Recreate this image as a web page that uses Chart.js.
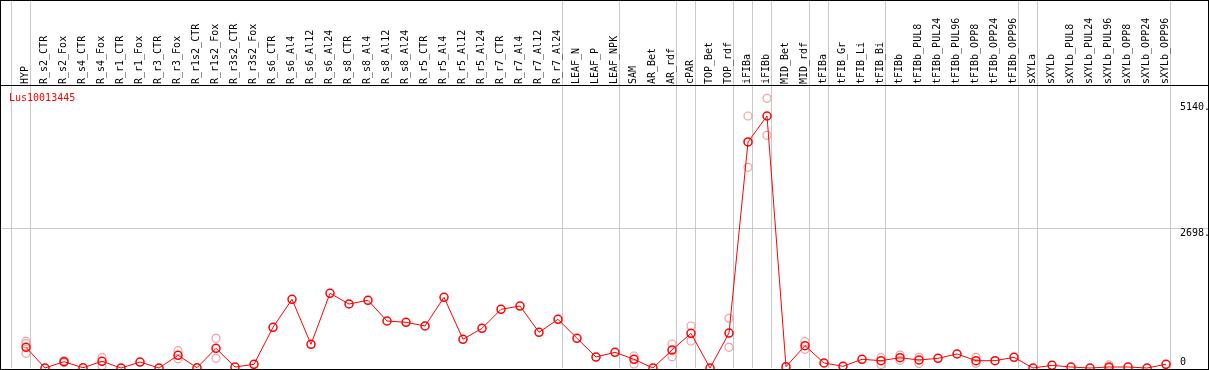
<!DOCTYPE html>
<html>
<head>
<meta charset="utf-8">
<script src="https://cdn.jsdelivr.net/npm/chart.js@4.4.1/dist/chart.umd.min.js"></script>
<style>
    html, body { margin: 0; padding: 0; background: #fff; }
    #frame { width: 1207px; height: 368px; border: 1px solid #000; }
    canvas { display: block; }
</style>
</head>
<body>
<div id="frame"><canvas id="chart" width="1207" height="368"></canvas></div>
<script>
// Sample names along the top
const categories = [
    'HYP', 'R_s2_CTR', 'R_s2_Fox', 'R_s4_CTR', 'R_s4_Fox', 'R_r1_CTR', 'R_r1_Fox',
    'R_r3_CTR', 'R_r3_Fox', 'R_r1s2_CTR', 'R_r1s2_Fox', 'R_r3s2_CTR', 'R_r3s2_Fox',
    'R_s6_CTR', 'R_s6_Al4', 'R_s6_Al12', 'R_s6_Al24', 'R_s8_CTR', 'R_s8_Al4',
    'R_s8_Al12', 'R_s8_Al24', 'R_r5_CTR', 'R_r5_Al4', 'R_r5_Al12', 'R_r5_Al24',
    'R_r7_CTR', 'R_r7_Al4', 'R_r7_Al12', 'R_r7_Al24', 'LEAF_N', 'LEAF_P', 'LEAF_NPK',
    'SAM', 'AR_Bet', 'AR_rdf', 'cPAR', 'TOP_Bet', 'TOP_rdf', 'iFIBa', 'iFIBb',
    'MID_Bet', 'MID_rdf', 'tFIBa', 'tFIB_Gr', 'tFIB_Li', 'tFIB_Bi', 'tFIBb',
    'tFIBb_PUL8', 'tFIBb_PUL24', 'tFIBb_PUL96', 'tFIBb_OPP8', 'tFIBb_OPP24', 'tFIBb_OPP96',
    'sXYLa', 'sXYLb', 'sXYLb_PUL8', 'sXYLb_PUL24', 'sXYLb_PUL96', 'sXYLb_OPP8',
    'sXYLb_OPP24', 'sXYLb_OPP96'
];

// Mean expression per sample
const meanValues = [
    402, 0, 122, 5, 130, 0, 116,
    0, 246, 5, 382, 19, 72,
    790, 1333, 460, 1450, 1242, 1314,
    912, 887, 815, 1372, 557, 770,
    1139, 1203, 693, 945, 576, 213, 305,
    169, 0, 349, 673, 0, 679, 4387, 4891,
    25, 433, 97, 33, 169, 142, 200,
    155, 188, 272, 142, 142, 207,
    0, 52, 19, 0, 19, 19,
    0, 72
];

// Individual replicates (only where they stand apart from the mean)
const replicateCats = [
    'HYP', 'R_s2_Fox', 'R_s4_Fox', 'R_r3_Fox', 'R_r1s2_Fox', 'SAM', 'AR_rdf', 'cPAR',
    'TOP_rdf', 'iFIBa', 'iFIBb', 'MID_rdf', 'tFIB_Bi', 'tFIBb', 'tFIBb_PUL8',
    'tFIBb_OPP8', 'sXYLb_PUL96'
];
const replicateVals = [
    [515, 472, 285], [140, 105], [200, 45], [336, 181], [576, 188], [233, 78], [466, 219], [815, 524],
    [965, 402], [4891, 3896], [5235, 4517], [510, 363], [200, 70], [250, 150], [207, 85],
    [207, 90], [60, 0]
];

// Right axis labels
const yTicks = [0, 2698, 5140];
const yTickLabels = [['0    ', ''], '2698.', '5140.'];
// Sample index after which a separator line is drawn
const groupEnds = [-1, 0, 28, 31, 34, 35, 37, 38, 39, 41, 42, 45, 52, 53, 60];
const seriesName = 'Lus10013445';

const FONT = { family: 'DejaVu Sans Mono', size: 10 };
// the "0" label sits above its tick, so give it a tall second (empty) line
const ZERO_FONT = { family: 'DejaVu Sans Mono', size: 10, lineHeight: 2 };
const X_MIN = -25 / 19;
const X_MAX = X_MIN + 1207 / 19;
const Y_MAX = 5493;

const meanData = meanValues.map((v, i) => ({ x: i, y: v }));
const repData = [];
replicateCats.forEach((cat, k) => {
    const i = categories.indexOf(cat);
    replicateVals[k].forEach(v => repData.push({ x: i, y: v }));
});

// Series name in the top-left corner of the plot
const seriesNamePlugin = {
    id: 'seriesName',
    afterDraw(chart) {
        const ctx = chart.ctx;
        ctx.save();
        ctx.font = '10px "DejaVu Sans Mono"';
        ctx.fillStyle = '#ff0000';
        ctx.textBaseline = 'alphabetic';
        ctx.fillText(seriesName, 8, chart.chartArea.top + 16);
        ctx.restore();
    }
};

// Keep the axes from reserving extra room around the plot
function noPadding(scale) {
    scale.paddingLeft = 0;
    scale.paddingRight = 0;
    scale.paddingTop = 0;
    scale.paddingBottom = 0;
}

new Chart(document.getElementById('chart'), {
    type: 'line',
    data: {
        datasets: [{
            label: seriesName,
            data: meanData,
            xAxisID: 'xLab',
            yAxisID: 'y',
            borderColor: '#ff0000',
            borderWidth: 1,
            pointRadius: 4,
            pointBorderWidth: 1.5,
            pointBorderColor: '#ff0000',
            pointBackgroundColor: 'rgba(0,0,0,0)',
            tension: 0,
            clip: false
        }, {
            label: 'replicates',
            data: repData,
            xAxisID: 'xLab',
            yAxisID: 'y',
            showLine: false,
            pointRadius: 4,
            pointBorderWidth: 1.2,
            pointBorderColor: '#f0a0a0',
            pointBackgroundColor: 'rgba(0,0,0,0)',
            clip: false
        }]
    },
    options: {
        responsive: false,
        animation: false,
        layout: { autoPadding: false, padding: { left: 0, right: 0, top: 0, bottom: 1 } },
        plugins: {
            legend: { display: false },
            tooltip: { enabled: false }
        },
        scales: {
            xLab: {
                type: 'linear',
                position: 'top',
                weight: 1,
                min: X_MIN,
                max: X_MAX,
                afterBuildTicks: scale => {
                    scale.ticks = categories.map((c, i) => ({ value: i }));
                },
                afterFit: scale => { scale.height = 84; noPadding(scale); },
                grid: { display: false, drawTicks: false },
                border: { display: false },
                ticks: {
                    autoSkip: false,
                    minRotation: 90,
                    maxRotation: 90,
                    padding: 1,
                    labelOffset: 11,
                    color: '#000',
                    font: FONT,
                    callback: value => categories[value] ?? ''
                }
            },
            xGrid: {
                type: 'linear',
                position: 'top',
                weight: 0,
                min: X_MIN,
                max: X_MAX,
                afterBuildTicks: scale => {
                    scale.ticks = groupEnds.map(i => ({ value: i + 0.24 }));
                },
                afterFit: scale => { scale.height = 0; noPadding(scale); },
                grid: {
                    color: '#c8c8c8',
                    lineWidth: 1,
                    drawTicks: true,
                    tickLength: 84
                },
                border: { display: true, color: '#000', width: 1 },
                ticks: { display: false }
            },
            y: {
                type: 'linear',
                position: 'right',
                min: 0,
                max: Y_MAX,
                afterBuildTicks: scale => {
                    scale.ticks = yTicks.map(v => ({ value: v }));
                },
                afterFit: scale => { scale.width = 0; noPadding(scale); },
                grid: {
                    color: ctx => (ctx.tick && ctx.tick.value === 2698) ? '#c8c8c8' : 'rgba(0,0,0,0)',
                    drawTicks: false
                },
                border: { display: false },
                ticks: {
                    mirror: true,
                    padding: 2,
                    labelOffset: 4,
                    color: '#000',
                    font: ctx => (ctx.tick && ctx.tick.value === 0) ? ZERO_FONT : FONT,
                    callback: value => yTickLabels[yTicks.indexOf(value)]
                }
            }
        }
    },
    plugins: [seriesNamePlugin]
});
</script>
</body>
</html>
